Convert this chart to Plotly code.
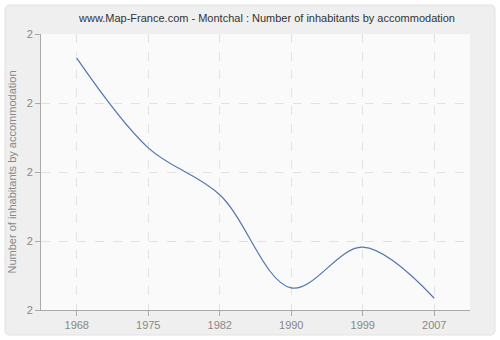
import plotly.graph_objects as go

years = ["1968", "1975", "1982", "1990", "1999", "2007"]
values = [2.365, 2.235, 2.167, 2.032, 2.091, 2.017]
y_ticks = [2.0, 2.1, 2.2, 2.3, 2.4]
y_tick_labels = ["2", "2", "2", "2", "2"]

title_text = "www.Map-France.com - Montchal : Number of inhabitants by accommodation"
y_title = "Number of inhabitants by accommodation"

FONT = "Liberation Sans"

fig = go.Figure()
fig.add_trace(go.Scatter(
    x=list(range(len(years))), y=values, mode="lines",
    line=dict(color="#4f77b0", width=1.2, shape="spline", smoothing=1.0),
    hoverinfo="skip", showlegend=False,
))

L, R, T, B = 41, 30, 34, 30
pw, ph = 500 - L - R, 340 - T - B

def px_x(p):
    return (p - L) / pw

def px_y(p):
    return (340 - B - p) / ph

x0, x1, y0, y1 = px_x(5), px_x(495), px_y(335), px_y(5)
rx, ry = 5 / pw, 5 / ph
path = (f"M{x0+rx},{y1} L{x1-rx},{y1} Q{x1},{y1} {x1},{y1-ry} "
        f"L{x1},{y0+ry} Q{x1},{y0} {x1-rx},{y0} L{x0+rx},{y0} "
        f"Q{x0},{y0} {x0},{y0+ry} L{x0},{y1-ry} Q{x0},{y1} {x0+rx},{y1} Z")

fig.update_layout(
    width=500, height=340,
    margin=dict(l=L, r=R, t=T, b=B),
    paper_bgcolor="#ffffff",
    plot_bgcolor="rgba(0,0,0,0)",
    font=dict(family=FONT, size=11, color="#888888"),
    title=dict(text=title_text, x=0.534, xanchor="center", y=0.947, yanchor="middle",
               font=dict(family=FONT, size=11, color="#333333")),
    shapes=[
        dict(type="path", path=path, xref="paper", yref="paper",
             fillcolor="#efefef", line=dict(color="#e2e2e2", width=1), layer="below"),
        dict(type="rect", x0=0, x1=1, y0=0, y1=1, xref="paper", yref="paper",
             fillcolor="#fafafa", line=dict(width=0), layer="below"),
    ],
    xaxis=dict(
        range=[-0.5, len(years) - 0.5], automargin=False,
        tickmode="array", tickvals=list(range(len(years))), ticktext=years,
        showgrid=True, gridcolor="#e2e2e2", griddash="dash", gridwidth=1,
        showline=True, linecolor="#aaaaaa", linewidth=1,
        ticks="outside", ticklen=5, tickcolor="#aaaaaa",
        tickfont=dict(color="#888888", size=11), zeroline=False, fixedrange=True,
    ),
    yaxis=dict(
        range=[2.0, 2.4], automargin=False,
        tickmode="array", tickvals=y_ticks, ticktext=y_tick_labels,
        showgrid=True, gridcolor="#e2e2e2", griddash="dash", gridwidth=1,
        showline=True, linecolor="#aaaaaa", linewidth=1,
        ticks="outside", ticklen=5, tickcolor="#aaaaaa",
        tickfont=dict(color="#888888", size=11), zeroline=False, fixedrange=True,
        title=dict(text=y_title, font=dict(color="#888888", size=11), standoff=7),
    ),
)

fig.write_html("out.html")
